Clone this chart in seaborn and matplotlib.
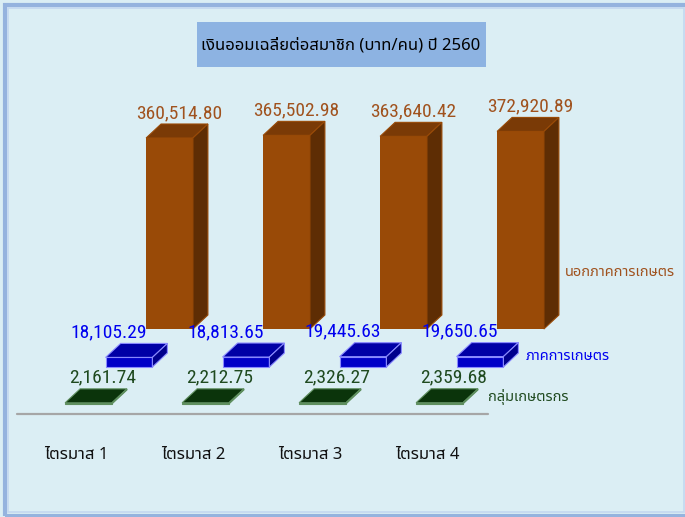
import numpy as np
import pandas as pd
import matplotlib
matplotlib.use("Agg")
import matplotlib.pyplot as plt
import seaborn as sns
from matplotlib import font_manager
from matplotlib.ft2font import FT2Font
from matplotlib.patches import Polygon, Rectangle

# data
quarters = ["ไตรมาส 1", "ไตรมาส 2", "ไตรมาส 3", "ไตรมาส 4"]
series_names = ["กลุ่มเกษตรกร", "ภาคการเกษตร", "นอกภาคการเกษตร"]
farmer_group = [2161.74, 2212.75, 2326.27, 2359.68]
agri_sector = [18105.29, 18813.65, 19445.63, 19650.65]
non_agri = [360514.80, 365502.98, 363640.42, 372920.89]
title = "เงินออมเฉลี่ยต่อสมาชิก (บาท/คน) ปี 2560"


# find a font with Thai glyphs (none of the named families have them)
def font_with(char, prefer=()):
    found = []
    for f in font_manager.fontManager.ttflist:
        try:
            if ord(char) in FT2Font(f.fname).get_charmap():
                found.append(f.name)
        except Exception:
            pass
    for p in prefer:
        if p in found:
            return p
    return found[0] if found else "DejaVu Sans"


thai_font = font_with("ก", prefer=["Tahoma", "Noto Sans Thai", "Noto Sans Thai UI",
                                  "Loma", "Garuda", "Sarabun", "Kinnari"])
thai_fam = [thai_font, "DejaVu Sans"]

# a narrow face for the numbers if there is one
names = {f.name for f in font_manager.fontManager.ttflist}
num_font, num_size, num_stretch = "Liberation Sans", 12.5, "normal"
for cand in ["Liberation Sans Narrow", "Arial Narrow", "Roboto Condensed", "Open Sans Condensed"]:
    if cand in names:
        num_font, num_size = cand, 14
        break

# pixel layout of the 685x517 picture
W, H = 685, 517
X0_PX, STEP_PX = 88.5, 117.0      # centre of first front bar, spacing of quarters
Y0_PX, VAL_PX = 404.0, 1887.5     # floor of front row, value units per pixel


def px_x(px):
    return (px - X0_PX) / STEP_PX


def px_y(py):
    return (Y0_PX - py) * VAL_PX


ROW_DX = 40.5 / STEP_PX           # each row sits further right ...
ROW_LIFT = [0, 37, 75]            # ... and higher (px)
DX, DY = 15 / STEP_PX, 14 * VAL_PX  # depth of each block
BAR_W = 0.40

front_c = ["#002600", "#0000C8", "#994A07"]
top_c = ["#0B340B", "#0000A6", "#7A3A06"]
side_c = ["#001800", "#00008C", "#5E2D04"]
edge_c = ["#5F8F5F", "#8A8AFF", "#994A07"]
text_c = ["#1F4A1F", "#0000F0", "#A0521E"]
lab_dx = [14, -20, 10]            # label shift from front centre (px)
name_gap = [10, 7, 6]
name_y = [397, 357, 272]

sns.set_theme(style="white")
bg = "#DBEEF4"
fig = plt.figure(figsize=(W / 100, H / 100), dpi=100)
fig.patch.set_facecolor(bg)
ax = fig.add_axes([0, 0, 1, 1])
ax.set_facecolor(bg)

df = pd.DataFrame({
    "quarter": quarters * 3,
    "series": np.repeat(series_names, len(quarters)),
    "value": farmer_group + agri_sector + non_agri,
})
df["row"] = df["series"].map({s: k for k, s in enumerate(series_names)})
df["pos"] = df["quarter"].map({q: i for i, q in enumerate(quarters)}) + df["row"] * ROW_DX

# back row first so the front rows sit on top
for row in [2, 1, 0]:
    sub = df[df["row"] == row]
    z = 10 - 3 * row
    n0 = len(ax.patches)
    sns.barplot(data=sub, x="pos", y="value", orient="x", native_scale=True,
                width=BAR_W, errorbar=None, color=front_c[row], saturation=1,
                bottom=ROW_LIFT[row] * VAL_PX, linewidth=0, zorder=z, ax=ax)
    bars = ax.patches[n0:]
    for rect in bars:
        x0, y0 = rect.get_x(), rect.get_y()
        w, h = rect.get_width(), rect.get_height()
        top = [(x0, y0 + h), (x0 + w, y0 + h), (x0 + w + DX, y0 + h + DY), (x0 + DX, y0 + h + DY)]
        side = [(x0 + w, y0), (x0 + w + DX, y0 + DY), (x0 + w + DX, y0 + h + DY), (x0 + w, y0 + h)]
        ax.add_patch(Polygon(top, closed=True, fc=top_c[row], ec=edge_c[row], lw=0.8, zorder=z))
        ax.add_patch(Polygon(side, closed=True, fc=side_c[row], ec=edge_c[row], lw=0.8, zorder=z))
        if row < 2:
            rect.set_edgecolor(edge_c[row])
            rect.set_linewidth(0.8)
        ax.text(x0 + w / 2 + lab_dx[row] / STEP_PX, y0 + h + DY + 6 * VAL_PX,
                f"{h:,.2f}", ha="center", va="baseline", color=text_c[row],
                family=num_font, fontsize=num_size, zorder=20)
    last = bars[-1]
    ax.text(last.get_x() + last.get_width() + DX + name_gap[row] / STEP_PX, px_y(name_y[row]),
            series_names[row], ha="left", va="center", color=text_c[row],
            family=thai_fam, fontsize=10.5, zorder=20)

# floor line and quarter labels
ax.plot([px_x(17), px_x(488)], [px_y(414), px_y(414)], color="#A6A6A6", lw=1.6, zorder=1)
for i, q in enumerate(quarters):
    ax.text(i + px_x(76), px_y(455), q, ha="center", va="center", color="#111111",
            family=thai_fam, fontsize=12)

ax.set_xlim(px_x(0), px_x(W))
ax.set_ylim(px_y(H), px_y(0))
ax.axis("off")

# title box
fig.add_artist(Rectangle((197 / W, 1 - 67 / H), 289 / W, 45 / H, transform=fig.transFigure,
                         fc="#8DB3E2", ec="none"))
fig.text(341 / W, 1 - 45 / H, title, ha="center", va="center", color="black",
         family=thai_fam, fontsize=12)

# double frame around the picture
fig.add_artist(Rectangle((5 / W, 1 - 516 / H), 681 / W, 511 / H, transform=fig.transFigure,
                         fill=False, ec="#95B3DE", lw=3))
fig.add_artist(Rectangle((7.5 / W, 1 - 511.5 / H), 676 / W, 504 / H, transform=fig.transFigure,
                         fill=False, ec="#C3D8F0", lw=1.2))

fig.savefig("out.png", dpi=100, facecolor=bg)
